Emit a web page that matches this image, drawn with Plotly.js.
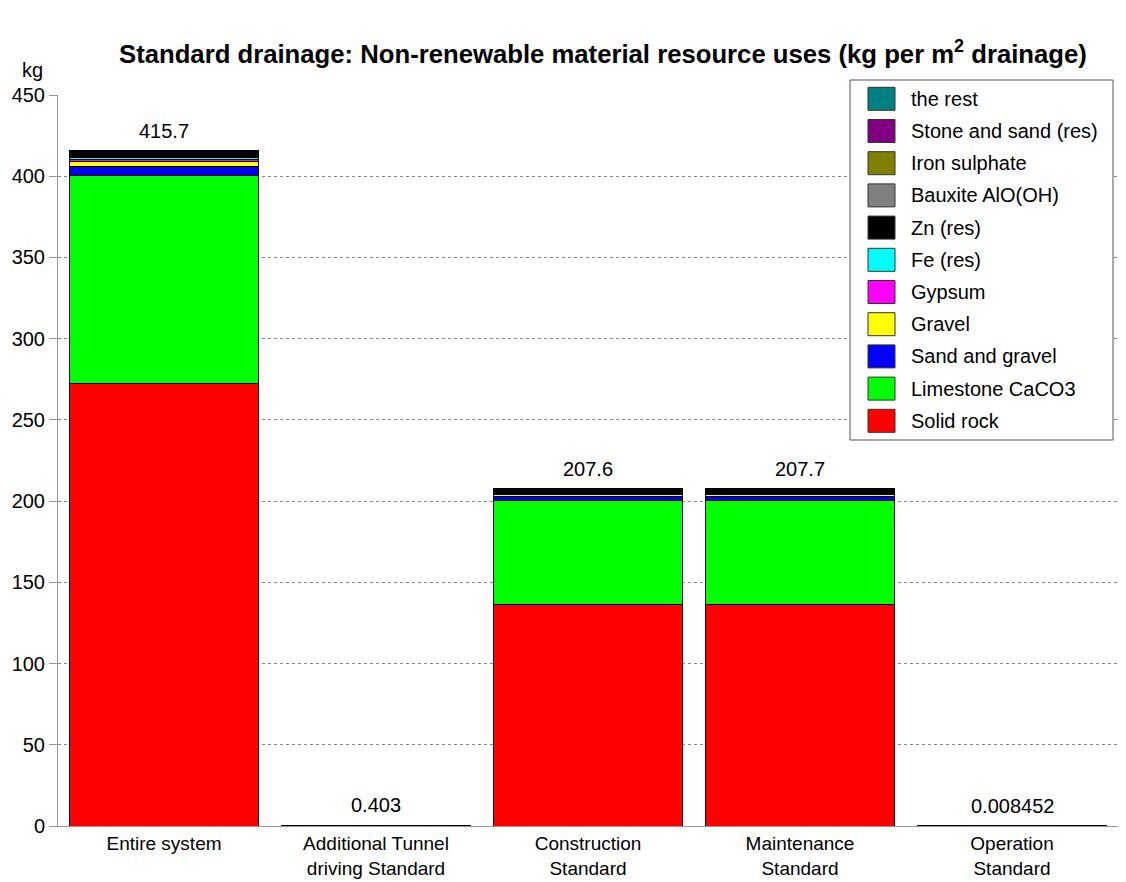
<!DOCTYPE html>
<html>
<head>
<meta charset="utf-8">
<script src="https://cdn.plot.ly/plotly-3.0.1.min.js"></script>
<style>html,body{margin:0;padding:0;background:#fff;}#chart{width:1126px;height:882px;}</style>
</head>
<body>
<div id="chart"></div>
<script>
// ---- data ----
const categories = ["Entire system", "Additional Tunnel<br>driving Standard", "Construction<br>Standard", "Maintenance<br>Standard", "Operation<br>Standard"];
const totalLabels = ["415.7", "0.403", "207.6", "207.7", "0.008452"];
const totals = [415.7, 0.403, 207.6, 207.7, 0.008452];

const seriesNames = ["Solid rock", "Limestone CaCO3", "Sand and gravel", "Gravel", "Gypsum", "Fe (res)", "Zn (res)", "Bauxite AlO(OH)", "Iron sulphate", "Stone and sand (res)", "the rest"];
const seriesColors = ["#FF0000", "#00FF00", "#0000FF", "#FFFF00", "#FF00FF", "#00FFFF", "#000000", "#808080", "#808000", "#800080", "#008080"];

const solidRock     = [272.3, 0.1,   136.1, 136.1, 0.004];
const limestone     = [128.2, 0.2,   64.0,  64.0,  0.002];
const sandGravel    = [5.5,   0.05,  2.7,   2.7,   0.001];
const gravel        = [3.1,   0.03,  1.5,   1.5,   0.0004];
const gypsum        = [1.3,   0.005, 0.6,   0.6,   0.0002];
const feRes         = [0.9,   0.005, 0.4,   0.4,   0.0002];
const znRes         = [3.6,   0.01,  1.8,   1.8,   0.0003];
const bauxite       = [0.2,   0.001, 0.1,   0.1,   0.0001];
const ironSulphate  = [0.2,   0.001, 0.1,   0.1,   0.0001];
const stoneSand     = [0.2,   0.001, 0.1,   0.1,   0.0001];
const theRest       = [0.2,   0.0,   0.2,   0.3,   0.000052];

const seriesValues = [solidRock, limestone, sandGravel, gravel, gypsum, feRes, znRes, bauxite, ironSulphate, stoneSand, theRest];

// ---- layout geometry (pixels) ----
const W = 1126, H = 882;
const mL = 58, mR = 8, mT = 95, mB = 56;
const pw = W - mL - mR, ph = H - mT - mB;
const px2x = p => (p - mL) / pw;
const px2y = p => (H - mB - p) / ph;

const FONT = "Liberation Sans, Arial, sans-serif";
const FS = 20;

const traces = seriesNames.map((name, i) => ({
  type: "bar",
  name: name,
  x: categories,
  y: seriesValues[i],
  marker: {color: seriesColors[i], line: {color: "#000000", width: 1}},
  showlegend: false,
  hoverinfo: "name+y"
}));

const annotations = [];
categories.forEach((c, i) => {
  annotations.push({
    x: c, y: totals[i], xref: "x", yref: "y",
    text: totalLabels[i], showarrow: false,
    yanchor: "bottom", yshift: 7,
    font: {family: FONT, size: FS, color: "#000"}
  });
});

// title & unit
annotations.push({
  xref: "paper", yref: "paper", x: px2x(603), y: px2y(52),
  xanchor: "center", yanchor: "middle", showarrow: false,
  text: "<b>Standard drainage: Non-renewable material resource uses (kg per m<sup>2</sup> drainage)</b>",
  font: {family: FONT, size: 25.7, color: "#000"}
});
annotations.push({
  xref: "paper", yref: "paper", x: px2x(32), y: px2y(70),
  xanchor: "center", yanchor: "middle", showarrow: false,
  text: "kg", font: {family: FONT, size: FS, color: "#000"}
});

// manual legend
const shapes = [];
const legL = 850, legR = 1113, legT = 80, legB = 440;
shapes.push({type: "rect", xref: "paper", yref: "paper",
  x0: px2x(legL), x1: px2x(legR), y0: px2y(legB), y1: px2y(legT),
  fillcolor: "#ffffff", line: {color: "#555555", width: 1}, layer: "above"});
const order = seriesNames.map((_, i) => i).reverse();
order.forEach((idx, k) => {
  const top = 87.3 + k * 32.2;
  shapes.push({type: "rect", xref: "paper", yref: "paper",
    x0: px2x(868), x1: px2x(895), y0: px2y(top + 23), y1: px2y(top),
    fillcolor: seriesColors[idx], line: {color: "#333333", width: 1}, layer: "above"});
  annotations.push({xref: "paper", yref: "paper", x: px2x(909), y: px2y(top + 11.5),
    xanchor: "left", yanchor: "middle", showarrow: false,
    text: seriesNames[idx], font: {family: FONT, size: FS, color: "#000"}});
});

const layout = {
  width: W, height: H,
  margin: {l: mL, r: mR, t: mT, b: mB, pad: 0},
  paper_bgcolor: "#ffffff", plot_bgcolor: "#ffffff",
  barmode: "stack", bargap: 0.11,
  showlegend: false,
  font: {family: FONT, size: FS, color: "#000"},
  xaxis: {
    type: "category", showgrid: false, showline: true, linecolor: "#999999", linewidth: 1,
    ticks: "", tickfont: {family: FONT, size: 19, color: "#000"}, automargin: false
  },
  yaxis: {
    range: [0, 450], dtick: 50, showgrid: true, gridcolor: "#888888", griddash: "dot", gridwidth: 1,
    showline: true, linecolor: "#999999", linewidth: 1, ticks: "outside", ticklen: 8, tickcolor: "#999999",
    zeroline: false, tickfont: {family: FONT, size: FS, color: "#000"}, automargin: false
  },
  annotations: annotations,
  shapes: shapes
};

Plotly.newPlot("chart", traces, layout, {displayModeBar: false, staticPlot: true});
</script>
</body>
</html>
